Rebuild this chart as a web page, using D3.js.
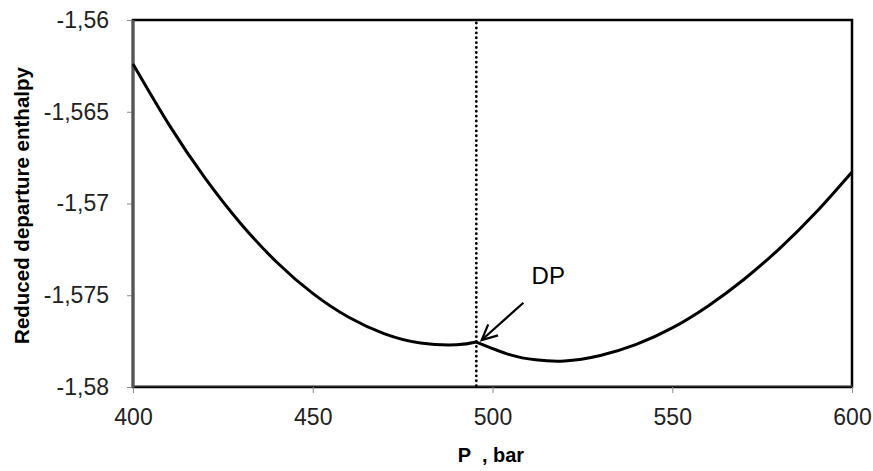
<!DOCTYPE html>
<html>
<head>
<meta charset="utf-8">
<script src="https://cdn.jsdelivr.net/npm/d3@7"></script>
<style>
  html, body { margin: 0; padding: 0; background: #fff; }
  svg { display: block; }
</style>
</head>
<body>
<svg id="chart" width="873" height="471"></svg>
<script>
// ---- data ----
const leftP = [400, 410, 420, 430, 440, 450, 460, 470, 480, 490, 495.5];
const leftH = [-1.5624, -1.5657, -1.5686, -1.5711, -1.5732, -1.5749, -1.5762, -1.5771, -1.5776, -1.5777, -1.57755];
const rightP = [495.5, 505, 512, 520, 530, 540, 550, 560, 570, 580, 590, 600];
const rightH = [-1.57755, -1.57825, -1.57852, -1.57858, -1.57828, -1.57768, -1.57678, -1.57558, -1.57413, -1.57243, -1.57048, -1.56828];
const dewPointP = [495.5];
const xTicks = [400, 450, 500, 550, 600];
const yTicks = [-1.56, -1.565, -1.57, -1.575, -1.58];
const annotation = { label: "DP", tipP: 497, tipH: -1.57744, tailP: 508.6, tailH: -1.57541, textP: 515.5, textH: -1.5744 };
const xTitle = "P  , bar";
const yTitle = "Reduced departure enthalpy";

// ---- layout ----
const svg = d3.select("#chart");
const L = 133, R = 852, T = 20, B = 387;
const x = d3.scaleLinear().domain([400, 600]).range([L, R]);
const y = d3.scaleLinear().domain([-1.58, -1.56]).range([B, T]);

const loc = d3.formatLocale({ decimal: ",", thousands: " ", grouping: [3], currency: ["", ""], minus: "-" });
const fmt = loc.format("~g");

const font = "'Liberation Sans', Arial, sans-serif";

// plot border
svg.append("rect")
  .attr("x", L).attr("y", T).attr("width", R - L).attr("height", B - T)
  .attr("fill", "none").attr("stroke", "#000").attr("stroke-width", 2.5);

// axes
const yAxis = svg.append("g").attr("transform", `translate(${L},0)`)
  .call(d3.axisLeft(y).tickValues(yTicks).tickFormat(fmt).tickSize(6).tickPadding(18));
const xAxis = svg.append("g").attr("transform", `translate(0,${B})`)
  .call(d3.axisBottom(x).tickValues(xTicks).tickFormat(d3.format("d")).tickSize(6).tickPadding(12));

[yAxis, xAxis].forEach(g => {
  g.select(".domain").remove();
  g.selectAll(".tick line").attr("stroke", "#8a8a8a").attr("stroke-width", 1);
  g.selectAll(".tick text").attr("font-family", font).attr("font-size", 23).attr("fill", "#222");
});
xAxis.selectAll(".tick text").attr("dy", "0.85em");

// axis lines (gray) over border on left and bottom
svg.append("line").attr("x1", L).attr("x2", L).attr("y1", T).attr("y2", B + 1)
  .attr("stroke", "#555").attr("stroke-width", 3);
svg.append("line").attr("x1", L).attr("x2", R).attr("y1", B - 1).attr("y2", B - 1)
  .attr("stroke", "#555").attr("stroke-width", 1);

// dotted vertical line at DP
svg.selectAll(".dp").data(dewPointP).enter().append("line")
  .attr("x1", d => x(d)).attr("x2", d => x(d))
  .attr("y1", T + 3).attr("y2", B)
  .attr("stroke", "#000").attr("stroke-width", 2.8)
  .attr("stroke-linecap", "round").attr("stroke-dasharray", "0.1 4.8");

// curves
const line = d3.line().x(d => x(d[0])).y(d => y(d[1])).curve(d3.curveNatural);
const leftData = leftP.map((p, i) => [p, leftH[i]]);
const rightData = rightP.map((p, i) => [p, rightH[i]]);
[leftData, rightData].forEach(data => {
  svg.append("path").datum(data).attr("d", line)
    .attr("fill", "none").attr("stroke", "#000").attr("stroke-width", 3)
    .attr("stroke-linejoin", "round");
});

// annotation arrow
const tx = x(annotation.tipP), ty = y(annotation.tipH);
const sx = x(annotation.tailP), sy = y(annotation.tailH);
svg.append("line").attr("x1", sx).attr("y1", sy).attr("x2", tx).attr("y2", ty)
  .attr("stroke", "#000").attr("stroke-width", 2.2);
const ang = Math.atan2(sy - ty, sx - tx);
const hl = 17, ha = 0.45;
const head = [
  [tx + hl * Math.cos(ang + ha), ty + hl * Math.sin(ang + ha)],
  [tx, ty],
  [tx + hl * Math.cos(ang - ha), ty + hl * Math.sin(ang - ha)]
];
svg.append("path").attr("d", d3.line()(head))
  .attr("fill", "none").attr("stroke", "#000").attr("stroke-width", 2.2).attr("stroke-linejoin", "miter");
svg.append("text").attr("x", x(annotation.textP)).attr("y", y(annotation.textH))
  .attr("text-anchor", "middle").attr("font-family", font).attr("font-size", 24)
  .attr("fill", "#000").text(annotation.label);

// axis titles
svg.append("text").attr("x", 491).attr("y", 462)
  .attr("text-anchor", "middle").attr("font-family", font).attr("font-weight", "bold")
  .attr("font-size", 20).attr("fill", "#000").style("white-space", "pre").text(xTitle);
svg.append("text").attr("transform", `translate(29,${(T + B) / 2 + 2}) rotate(-90)`)
  .attr("text-anchor", "middle").attr("font-family", font).attr("font-weight", "bold")
  .attr("font-size", 20.5).attr("fill", "#000").text(yTitle);
</script>
</body>
</html>
